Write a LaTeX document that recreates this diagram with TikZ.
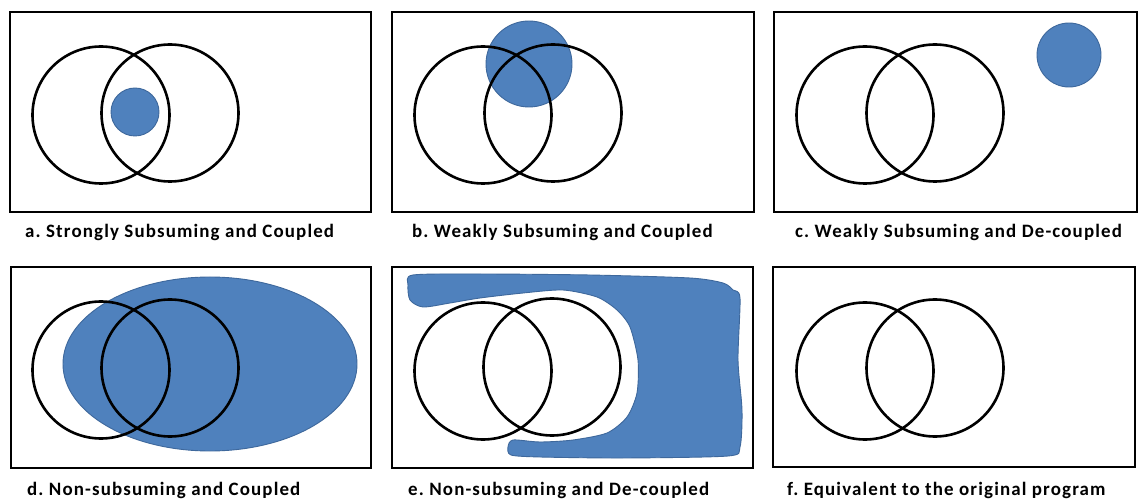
\documentclass[tikz,border=0pt]{standalone}
\usepackage{fontspec}
\setmainfont{Carlito}[LetterSpace=6]
\frenchspacing
\definecolor{blobfill}{RGB}{79,129,189}
\definecolor{blobline}{RGB}{62,104,156}
\tikzset{
  panel/.style={draw=black, line width=2.6bp},
  ring/.style={draw=black, line width=2.6bp},
  blob/.style={fill=blobfill, draw=blobline, line width=0.9bp},
  caption/.style={anchor=base west, inner sep=0pt, font=\fontsize{19}{21}\selectfont\bfseries}
}
\begin{document}
\begin{tikzpicture}[x=1bp,y=-1bp]
\useasboundingbox (0,0) rectangle (1144,499);
\fill[white] (0,0) rectangle (1144,499);

% ---------- a ----------
\draw[panel] (10,12) rectangle (371,212);
\fill[blob] (135,112) circle[radius=24bp];
\draw[ring] (101,115) circle[radius=68.5bp];
\draw[ring] (170,113) circle[radius=68.5bp];
\node[caption] (capa) at (25,238) {a. Strongly Subsuming and Coupled};

% ---------- b ----------
\draw[panel] (392,12) rectangle (754,212);
\fill[blob] (529,64) circle[radius=43bp];
\draw[ring] (483,115) circle[radius=68.5bp];
\draw[ring] (553,113) circle[radius=68.5bp];
\node[caption] (capb) at (412,238) {b. Weakly Subsuming and Coupled};

% ---------- c ----------
\draw[panel] (774,12) rectangle (1137,212);
\fill[blob] (1069,55) circle[radius=32bp];
\draw[ring] (865,115) circle[radius=68.5bp];
\draw[ring] (935,113) circle[radius=68.5bp];
\node[caption] (capc) at (795,238) {c. Weakly Subsuming and De-coupled};

% ---------- d ----------
\draw[panel] (11,267) rectangle (371,468);
\fill[blob] (210,364) ellipse[x radius=147bp, y radius=87bp];
\draw[ring] (101,370) circle[radius=68.5bp];
\draw[ring] (170,368) circle[radius=68.5bp];
\node[caption] (capd) at (27,495) {d. Non-subsuming and Coupled};

% ---------- e ----------
\draw[panel] (392,267) rectangle (753,468);
\filldraw[blob] plot[smooth cycle, tension=0.45] coordinates {
  (408,285) (413,275) (480,274) (590,275) (690,278) (723,283) (733,290)
  (740,298) (738,360) (742,410) (740,447) (728,456) (623,458) (540,457)
  (511,455) (508,447) (513,440) (540,442) (573,440) (607,433) (627,417)
  (637,393) (638,360) (630,327) (617,310) (597,297) (563,290) (523,293)
  (480,298) (450,303) (423,307) (410,300)};
\draw[ring] (483,371) circle[radius=68.5bp];
\draw[ring] (552,367) circle[radius=68.5bp];
\node[caption] (cape) at (408,495) {e. Non-subsuming and De-coupled};

% ---------- f ----------
\draw[panel] (773,267) rectangle (1135,467);
\draw[ring] (865,371) circle[radius=68.5bp];
\draw[ring] (935,368) circle[radius=68.5bp];
\node[caption] (capf) at (787,495) {f. Equivalent to the original program};
\end{tikzpicture}
\end{document}
